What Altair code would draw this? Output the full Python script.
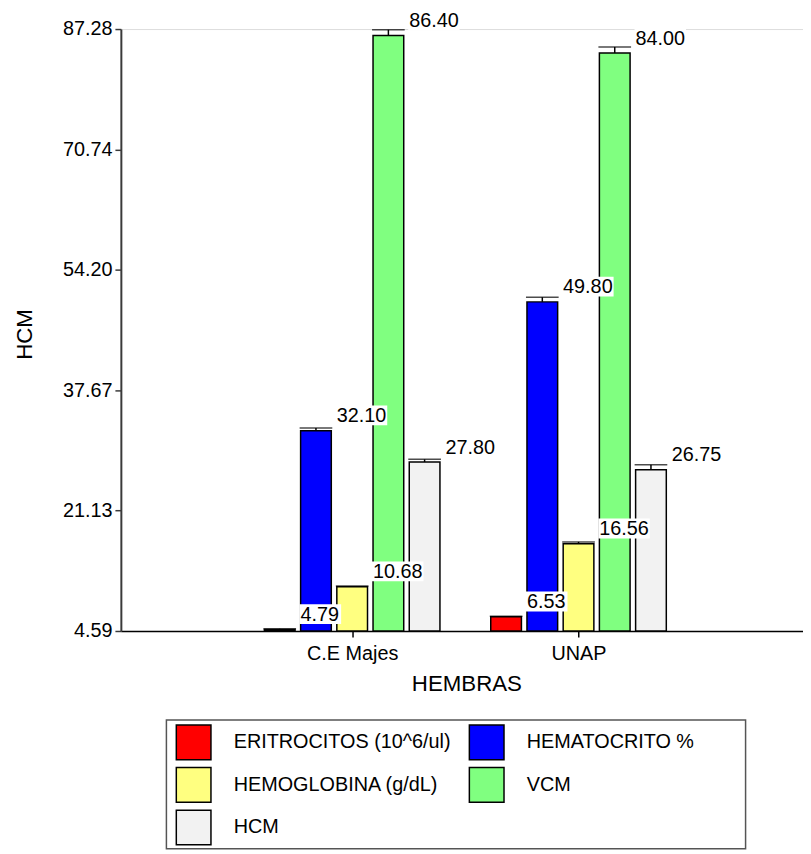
import altair as alt
import pandas as pd

GROUPS = ["C.E Majes", "UNAP"]
SERIES = ["ERITROCITOS (10^6/ul)", "HEMATOCRITO %", "HEMOGLOBINA (g/dL)", "VCM", "HCM"]
COLORS = ["#FF0000", "#0000FF", "#FFFF80", "#80FF80", "#F2F2F2"]
# legend is filled column by column (3 rows x 2 columns)
LEGEND_ORDER = ["ERITROCITOS (10^6/ul)", "HEMOGLOBINA (g/dL)", "HCM", "HEMATOCRITO %", "VCM"]
VALUES_CE = [4.79, 32.10, 10.68, 86.40, 27.80]
VALUES_UNAP = [6.53, 49.80, 16.56, 84.00, 26.75]
SD_CE = [0.10, 0.37, 0.10, 0.78, 0.37]
SD_UNAP = [0.10, 0.64, 0.27, 0.82, 0.68]
Y_TICKS = [4.59, 21.13, 37.67, 54.20, 70.74, 87.28]
Y_MIN, Y_MAX = Y_TICKS[0], Y_TICKS[-1]

FONT = "Liberation Sans"
PLOT_W, PLOT_H = 689, 608
X_MAX = PLOT_W / 232.0
SLOT = 0.16

rows = []
for gi, (g, vals, sds) in enumerate([(GROUPS[0], VALUES_CE, SD_CE), (GROUPS[1], VALUES_UNAP, SD_UNAP)]):
    for si, (s, v, sd) in enumerate(zip(SERIES, vals, sds)):
        rows.append({"group": g, "series": s, "value": v, "sd": sd, "gidx": gi + 1, "sidx": si})
df = pd.DataFrame(rows)

label_expr = " : ".join(f"datum.value == {i + 1} ? '{g}'" for i, g in enumerate(GROUPS)) + " : ''"

base = alt.Chart(df).transform_calculate(
    pos=f"datum.gidx + (datum.sidx - 2) * {SLOT}",
    top="datum.value + datum.sd",
    label="format(datum.value, '.2f')",
)

xenc = alt.X(
    "pos:Q",
    scale=alt.Scale(domain=[0, X_MAX], nice=False, zero=False),
    axis=alt.Axis(
        values=[1, 2], labelExpr=label_expr, title="HEMBRAS", grid=False,
        domainColor="black", domainWidth=1.5, tickColor="black", tickWidth=1.5, tickSize=6,
        labelFontSize=20, labelPadding=7, labelColor="black", labelFont=FONT,
        titleFontSize=22.5, titleFontWeight="normal", titleFont=FONT, titleColor="black",
        titleX=349, titleY=60, titleBaseline="alphabetic", titleAlign="center",
    ),
)
yscale = alt.Scale(domain=[Y_MIN, Y_MAX], nice=False, zero=False)
yaxis = alt.Axis(
    values=Y_TICKS, format=".2f", title="HCM", grid=False,
    domainColor="#3a3a3a", domainWidth=2, tickColor="#3a3a3a", tickWidth=1.5, tickSize=6,
    labelFontSize=20, labelPadding=3, labelColor="black", labelFont=FONT,
    titleFontSize=22.5, titleFontWeight="normal", titleFont=FONT, titleColor="black",
    titleX=-90, titleY=308, titleAngle=270, titleBaseline="alphabetic", titleAlign="center",
)

bars = base.mark_bar(width=31, stroke="black", strokeWidth=1.5, opacity=1).encode(
    x=xenc,
    y=alt.Y("value:Q", scale=yscale, axis=yaxis),
    y2=alt.datum(Y_MIN),
    color=alt.Color(
        "series:N",
        scale=alt.Scale(domain=LEGEND_ORDER, range=[COLORS[SERIES.index(s)] for s in LEGEND_ORDER]),
        legend=alt.Legend(
            title=None, orient="none", legendX=55, legendY=702, columns=2,
            symbolType="square", symbolSize=1225,
            symbolStrokeColor="black", symbolStrokeWidth=1.5, symbolOpacity=1,
            labelFontSize=20, labelFont=FONT, labelColor="black", labelOffset=22,
            labelLimit=400, rowPadding=2, columnPadding=15, padding=0,
            labelBaseline="middle",
        ),
    ),
)

err_rule = base.mark_rule(color="black", strokeWidth=1.5).encode(
    x="pos:Q", y="value:Q", y2="top:Q"
)
err_cap = base.mark_tick(color="black", orient="horizontal", size=33, thickness=1.5).encode(
    x="pos:Q", y="top:Q"
)

box5 = base.transform_filter("length(datum.label) >= 5").mark_rect(
    color="white", xOffset=20, x2Offset=72, yOffset=-25.5, y2Offset=-5.5
).encode(x="pos:Q", x2="pos:Q", y="value:Q", y2="value:Q")
box4 = base.transform_filter("length(datum.label) < 5").mark_rect(
    color="white", xOffset=20, x2Offset=62, yOffset=-25.5, y2Offset=-5.5
).encode(x="pos:Q", x2="pos:Q", y="value:Q", y2="value:Q")

labels = base.mark_text(
    align="left", baseline="alphabetic", dx=21, dy=-8.5, fontSize=20, font=FONT, color="black"
).encode(x="pos:Q", y="value:Q", text="label:N")

frame = alt.Chart(pd.DataFrame({"k": [0]})).mark_rect(
    fill="white", fillOpacity=0, stroke="#555555", strokeWidth=1.5
).encode(x=alt.value(46), x2=alt.value(631), y=alt.value(698), y2=alt.value(828))

chart = alt.layer(frame, bars, err_rule, err_cap, box5, box4, labels).properties(
    width=PLOT_W,
    height=PLOT_H,
    autosize=alt.AutoSizeParams(type="none"),
    padding={"left": 114, "top": 17, "right": 0, "bottom": 221},
).configure_view(stroke=None).configure(font=FONT)

chart.save("out.html", embed_options={"renderer": "svg", "actions": False})
